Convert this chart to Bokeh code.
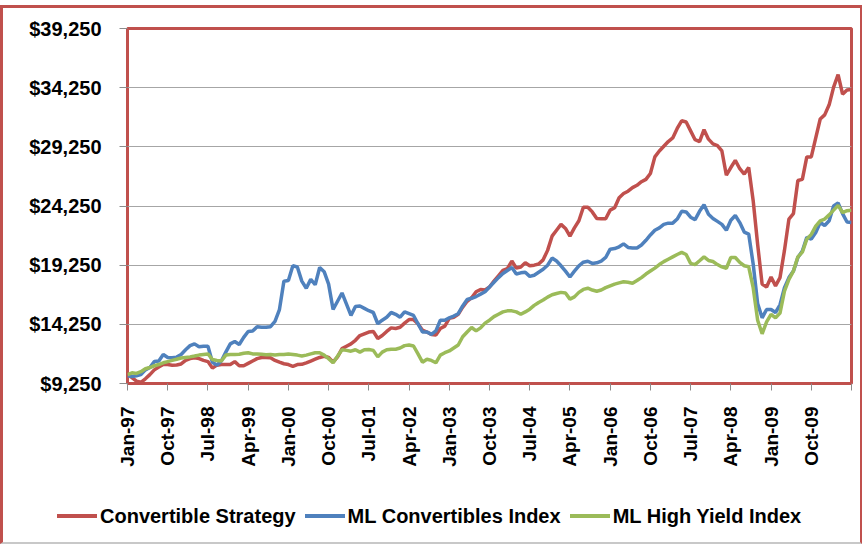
from bokeh.plotting import figure
from bokeh.layouts import column
from bokeh.models import (ColumnDataSource, Range1d, FixedTicker, NumeralTickFormatter, Div)
from bokeh.embed import file_html
from bokeh.resources import INLINE
import math

# ---- data (monthly, Jan-97 .. Jul-10) ----
convertible_strategy = [
    10000, 9750, 9450, 9350, 9650, 10000, 10400, 10650, 10850, 10850,
    10800, 10820, 10900, 11200, 11350, 11420, 11350, 11200, 11100, 10550,
    10800, 10850, 10850, 10860, 11100, 10750, 10750, 10950, 11150, 11350,
    11450, 11450, 11420, 11200, 11050, 10920, 10850, 10700, 10850, 10870,
    11000, 11150, 11300, 11450, 11550, 11450, 11050, 11500, 12200, 12400,
    12600, 12900, 13300, 13450, 13600, 13650, 13050, 13300, 13650, 13950,
    13900, 14000, 14350, 14650, 14650, 14300, 13750, 13600, 13400, 13350,
    13900, 14100, 14750, 14850, 15100, 15700, 16200, 16500, 17000, 17200,
    17150, 17400, 17900, 18350, 18800, 18950, 19600, 19000, 19100, 19450,
    19200, 19250, 19350, 19700, 20500, 21700, 22200, 22700, 22350, 21700,
    22400, 23000, 24150, 24150, 23750, 23200, 23170, 23170, 23900, 24100,
    24950, 25300, 25500, 25800, 26000, 26300, 26500, 27000, 28400, 28900,
    29300, 29700, 30000, 30800, 31450, 31350, 30600, 29850, 29700, 30700,
    29900, 29500, 29350, 28900, 26850, 27500, 28100, 27400, 26950, 27500,
    24700, 21000, 17650, 17400, 18250, 17500, 18200, 20500, 23150, 23600,
    26400, 26500, 28400, 28400, 30000, 31600, 31950, 32800, 34300, 35350,
    33700, 34050, 34100]

ml_convertibles = [
    9900, 9850, 9900, 10000, 10400, 10600, 11100, 11150, 11700, 11450,
    11420, 11480, 11700, 12100, 12450, 12600, 12350, 12400, 12400, 11050,
    10800, 11150, 11900, 12600, 12800, 12550, 13150, 13650, 13680, 14050,
    14000, 14000, 14050, 14500, 15500, 17900, 17950, 19200, 19100, 17900,
    17300, 18050, 17600, 19050, 18700, 17650, 15500, 16200, 16900, 15950,
    15000, 15750, 15800, 15600, 15400, 15250, 14300, 14600, 14850, 15250,
    15100, 14850, 15300, 15150, 15000, 14300, 13600, 13600, 13400, 13700,
    14600, 14600, 14800, 14950, 15150, 15800, 16350, 16450, 16600, 16800,
    17000, 17400, 17800, 18200, 18550, 18800, 19050, 18500, 18600, 18650,
    18300, 18400, 18650, 18900, 19250, 19850, 19600, 19200, 18750, 18250,
    18750, 19200, 19500, 19580, 19400, 19450, 19600, 19900, 20600, 20650,
    20800, 21050, 20750, 20700, 20700, 20950, 21350, 21800, 22200, 22400,
    22700, 22800, 22800, 23150, 23800, 23750, 23300, 23100, 23800, 24350,
    23550, 23200, 22950, 22700, 22200, 23050, 23450, 22850, 22050, 21880,
    19350, 16000, 14800, 15500, 15500, 15250, 15900, 17350, 18200, 18750,
    19900, 20450, 21600, 21450, 22000, 22850, 22600, 23000, 24250, 24500,
    23600, 22900, 22850]

ml_high_yield = [
    10000, 10150, 10100, 10250, 10500, 10600, 10750, 10850, 11000, 11100,
    11200, 11300, 11400, 11450, 11500, 11570, 11650, 11700, 11750, 11280,
    11200, 11150, 11650, 11700, 11700, 11720, 11800, 11850, 11750, 11750,
    11720, 11680, 11700, 11650, 11700, 11700, 11750, 11700, 11650, 11580,
    11650, 11750, 11850, 11850, 11650, 11350, 11000, 11550, 12100, 12050,
    11980, 12100, 11900, 12100, 12130, 12050, 11500, 11900, 12100, 12150,
    12150, 12250, 12450, 12500, 12420, 11750, 11050, 11300, 11200, 11000,
    11650, 11850, 12000, 12250, 12500, 13200, 13600, 13980, 13700, 13950,
    14350, 14600, 14900, 15100, 15300, 15390, 15390, 15300, 15100, 15300,
    15530, 15850, 16100, 16300, 16550, 16750, 16850, 16950, 16900, 16380,
    16570, 16950, 17200, 17300, 17150, 17050, 17150, 17350, 17500, 17650,
    17750, 17850, 17800, 17720, 17950, 18200, 18500, 18750, 19000, 19300,
    19550, 19750, 19950, 20150, 20330, 20150, 19400, 19300, 19620, 19950,
    19650, 19560, 19300, 19100, 18990, 19900, 19900, 19480, 19200, 19110,
    17350, 14600, 13450, 14450, 15100, 14800, 15200, 17050, 18050, 18750,
    19950, 20350, 21450, 21850, 22550, 23000, 23150, 23500, 23900, 24300,
    23700, 23850, 23900]

tick_months = [0, 9, 18, 27, 36, 45, 54, 63, 72, 81, 90, 99, 108, 117, 126, 135, 144, 153, 162]
tick_labels = ["Jan-97", "Oct-97", "Jul-98", "Apr-99", "Jan-00", "Oct-00", "Jul-01",
               "Apr-02", "Jan-03", "Oct-03", "Jul-04", "Apr-05", "Jan-06", "Oct-06",
               "Jul-07", "Apr-08", "Jan-09", "Oct-09", ""]
y_ticks = [9250, 14250, 19250, 24250, 29250, 34250, 39250]
series_names = ["Convertible Strategy", "ML Convertibles Index", "ML High Yield Index"]

months = list(range(len(convertible_strategy)))
src = ColumnDataSource(dict(m=months, cs=convertible_strategy,
                            mc=ml_convertibles, hy=ml_high_yield))

FONT = "Liberation Sans"
RED, BLUE, GREEN = "#c0504d", "#4f81bd", "#9bbb59"
COLORS = [RED, BLUE, GREEN]
FIELDS = ["cs", "mc", "hy"]

# ---- main chart ----
p = figure(width=857, height=482, output_backend="svg", toolbar_location=None,
           x_range=Range1d(0, 162), y_range=Range1d(9250, 39250),
           min_border_left=124, min_border_right=9, min_border_top=20,
           min_border_bottom=107)
p.outline_line_color = RED
p.outline_line_width = 3
p.background_fill_color = "white"
p.border_fill_color = "white"

for f, c in zip(FIELDS, COLORS):
    p.line("m", f, source=src, line_color=c, line_width=3.5)

p.xgrid.visible = False
p.ygrid.grid_line_color = "#a6a6a6"
p.ygrid.grid_line_width = 1
p.ygrid.ticker = FixedTicker(ticks=y_ticks)

ya = p.yaxis[0]
ya.ticker = FixedTicker(ticks=y_ticks)
ya.formatter = NumeralTickFormatter(format="$0,0")
ya.axis_line_color = None
ya.major_tick_line_color = "#8c8c8c"
ya.major_tick_out = 8
ya.major_tick_in = 0
ya.minor_tick_line_color = None
ya.major_label_standoff = 18
ya.major_label_text_font = FONT
ya.major_label_text_font_style = "bold"
ya.major_label_text_font_size = "20px"
ya.major_label_text_color = "black"

xa = p.xaxis[0]
xa.ticker = FixedTicker(ticks=tick_months)
xa.major_label_overrides = {m: lab for m, lab in zip(tick_months, tick_labels)}
xa.axis_line_color = None
xa.major_tick_line_color = "#8c8c8c"
xa.major_tick_out = 7
xa.major_tick_in = 0
xa.minor_tick_line_color = None
xa.major_label_orientation = math.pi / 2
xa.major_label_standoff = 16
xa.major_label_text_font = FONT
xa.major_label_text_font_style = "bold"
xa.major_label_text_font_size = "19px"
xa.major_label_text_color = "black"

# ---- legend (key line + bold series name for each series) ----
parts = []
for c, name in zip(COLORS, series_names):
    parts.append(
        f'<span style="display:inline-block;width:40px;height:0;'
        f'border-top:4px solid {c};vertical-align:middle;margin-right:3px"></span>'
        f'<span style="font-family:\'{FONT}\';font-weight:bold;font-size:20px;'
        f'color:black;margin-right:9px;vertical-align:middle">{name}</span>')
legend_div = Div(text=('<div style="display:flex;align-items:center;height:52px;'
                       'padding-left:54px;white-space:nowrap">' + "".join(parts) + '</div>'),
                 width=857, height=52, margin=(0, 0, 0, 0))

layout = column(p, legend_div, spacing=0,
                styles={"margin-top": "5px",
                        "border-left": "3px solid #c0504d",
                        "border-top": "3px solid #c0504d",
                        "border-right": "2px solid #c0504d",
                        "border-bottom": "2px solid #c8c8c8"})

open("out.html", "w").write(file_html(layout, INLINE))
